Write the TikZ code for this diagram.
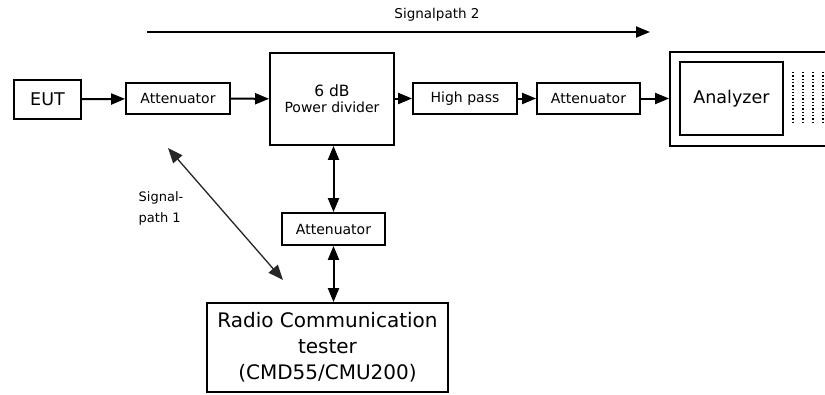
\documentclass[tikz,border=0pt]{standalone}
\usepackage{fontspec}
\setmainfont{DejaVu Sans}
\usetikzlibrary{arrows.meta}
\begin{document}
\begin{tikzpicture}[x=1pt,y=-1pt,
  blk/.style={draw,line width=1.8pt,inner sep=0pt,font=\fontsize{14}{16}\selectfont},
  tip/.tip={Triangle[length=14pt,width=11pt]},
  conn/.style={line width=2pt,-tip},
  bidir/.style={line width=2pt,tip-tip},
  diag/.style={line width=1.3pt,draw=black!85,{Triangle[length=15pt,width=12pt]}-{Triangle[length=15pt,width=12pt]}}]
\useasboundingbox (0,0) rectangle (825,394);
\fill[white] (0,0) rectangle (825,394);
% nodes
\node[blk,minimum width=67pt,minimum height=39pt,font=\fontsize{17.5}{20}\selectfont] (eut) at (47.5,99.5) {EUT};
\node[blk,minimum width=104pt,minimum height=31pt] (att1) at (178,98.5) {Attenuator};
\node[blk,minimum width=124pt,minimum height=92pt,align=center] (pd) at (332,99) {\fontsize{15.5}{19}\selectfont 6 dB\\\fontsize{14}{16}\selectfont Power divider};
\node[blk,minimum width=104pt,minimum height=31pt] (hp) at (465,98.5) {High pass};
\node[blk,minimum width=103pt,minimum height=31pt] (att2) at (588.5,98.5) {Attenuator};
\node[blk,minimum width=170pt,minimum height=94pt] (anaout) at (755,99) {};
\node[blk,minimum width=103pt,minimum height=73pt,font=\fontsize{17.5}{20}\selectfont] (ana) at (731.5,98.5) {Analyzer};
\foreach \xx in {793,803,813,823}{
  \draw[line width=1.3pt,dotted] (\xx,72) -- (\xx,122);
}
\node[blk,minimum width=103pt,minimum height=32pt] (att3) at (333.5,229) {Attenuator};
\node[blk,minimum width=241pt,minimum height=89pt,align=center,font=\fontsize{20}{26}\selectfont] (rct) at (327.5,347.5) {Radio Communication\\tester\\(CMD55/CMU200)};
% connectors
\draw[conn] (eut) -- (att1);
\draw[conn] (att1) -- (pd);
\draw[conn] (pd.east |- hp) -- (hp);
\draw[conn] (hp) -- (att2);
\draw[conn] (att2) -- (att2 -| anaout.west);
\draw[bidir] (att3.north) -- (att3.north |- pd.south);
\draw[bidir] (att3.south) -- (att3.south |- rct.north);
% signal paths
\coordinate (s2a) at (147,32);
\coordinate (s2b) at (650,32);
\draw[conn] (s2a) -- (s2b);
\node[font=\fontsize{13.5}{15}\selectfont] (s2t) at (437,15) {Signalpath 2};
\coordinate (s1a) at (168,148);
\coordinate (s1b) at (283,280);
\draw[diag] (s1a) -- (s1b);
\node[align=left,inner sep=0pt,font=\fontsize{13}{21}\selectfont] (s1t) at (161,208) {Signal-\\path 1};
\end{tikzpicture}
\end{document}
